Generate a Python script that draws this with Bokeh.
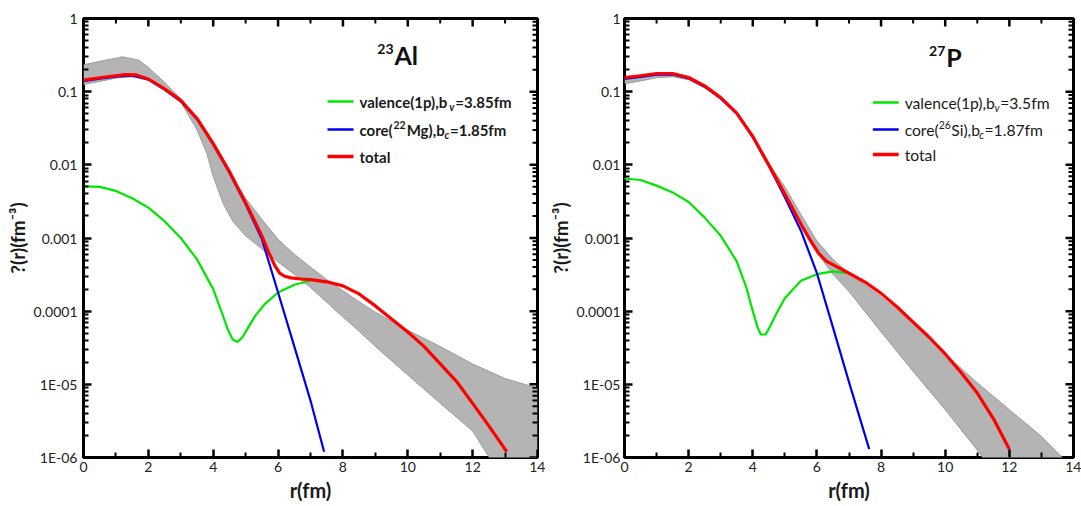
import math
from bokeh.plotting import figure
from bokeh.models import Range1d, FixedTicker, Label
from bokeh.layouts import row
from bokeh.embed import file_html
from bokeh.resources import INLINE

# ---------------- data: left panel (23Al) ----------------
r_band_L = [0, 0.5, 1.0, 1.2, 1.7, 2.0, 2.5, 3.0, 3.5, 3.8, 4.0, 4.3, 4.6, 5.0, 5.5, 6.0,
            6.5, 7.0, 7.5, 8.0, 8.5, 9.0, 10.0, 11.0, 12.0, 13.0, 14.0]
upper_L = [0.233, 0.26, 0.287, 0.30, 0.27, 0.214, 0.134, 0.080, 0.043, 0.028, 0.0195, 0.011,
           0.0066, 0.0035, 0.0018, 0.00096, 0.0006, 0.0004, 0.00027, 0.00019, 0.000135, 9.7e-5,
           5.5e-5, 3.3e-5, 1.9e-5, 1.2e-5, 8.9e-6]
lower_L = [0.125, 0.138, 0.153, 0.157, 0.16, 0.149, 0.115, 0.072, 0.030, 0.0144, 0.0069, 0.0030,
           0.0017, 0.00107, 0.00071, 0.00047, 0.00032, 0.00021, 0.000132, 8.3e-5, 5.3e-5, 3.3e-5,
           1.34e-5, 5.5e-6, 2.3e-6, 4.5e-7, 1.5e-7]
r_val_L = [0, 0.5, 1.0, 1.5, 2.0, 2.5, 3.0, 3.5, 4.0, 4.3, 4.45, 4.6, 4.75, 4.9, 5.1, 5.3, 5.6,
           6.0, 6.5, 7.0]
val_L = [0.0051, 0.0050, 0.0044, 0.0035, 0.0026, 0.0017, 0.0010, 0.00051, 0.00020, 8.7e-5, 5.6e-5,
         4.1e-5, 3.8e-5, 4.4e-5, 6.2e-5, 8.7e-5, 1.26e-4, 1.8e-4, 2.3e-4, 2.6e-4]
r_core_L = [0, 0.5, 1.0, 1.5, 2.0, 2.5, 3.0, 3.5, 4.0, 4.5, 5.0, 5.5, 6.0, 6.5, 7.0, 7.42]
core_L = [0.139, 0.150, 0.160, 0.166, 0.146, 0.107, 0.074, 0.042, 0.019, 0.0078, 0.0029, 0.00097,
          0.00018, 3.3e-5, 6.0e-6, 1.2e-6]
r_tot_L = [0, 0.5, 1.0, 1.3, 1.6, 2.0, 2.5, 3.0, 3.5, 4.0, 4.5, 5.0, 5.25, 5.5, 5.7, 5.9, 6.05,
           6.2, 6.4, 6.7, 7.0, 7.5, 8.0, 8.5, 9.0, 9.5, 10.0, 10.5, 11.0, 11.5, 12.0, 12.5, 13.05]
tot_L = [0.144, 0.155, 0.165, 0.171, 0.170, 0.149, 0.109, 0.076, 0.043, 0.0195, 0.0081, 0.0030,
         0.0018, 0.00107, 0.00065, 0.00042, 0.00033, 0.00030, 0.000285, 0.000275, 0.00027, 0.000252,
         0.000222, 0.000172, 0.000118, 7.8e-5, 5.2e-5, 3.3e-5, 1.9e-5, 1.1e-5, 5.5e-6, 2.7e-6, 1.2e-6]

# ---------------- data: right panel (27P) ----------------
r_band_R = [0, 0.5, 1, 1.5, 2, 2.5, 3, 3.5, 4, 4.5, 5, 5.5, 6, 6.5, 7, 7.5, 8, 9, 10, 11, 12, 13, 14]
upper_R = [0.152, 0.162, 0.172, 0.175, 0.155, 0.118, 0.083, 0.051, 0.025, 0.0105, 0.005, 0.0021,
           0.00091, 0.00051, 0.00033, 0.00023, 0.000158, 6.8e-5, 2.6e-5, 1.05e-5, 4.5e-6, 1.95e-6, 7e-7]
lower_R = [0.128, 0.140, 0.155, 0.16, 0.145, 0.112, 0.080, 0.049, 0.023, 0.0098, 0.004, 0.0015,
           0.00063, 0.00032, 0.000185, 9.8e-5, 5.2e-5, 1.5e-5, 4.5e-6, 1.26e-6, 3e-7, 8e-8, 2e-8]
r_val_R = [0, 0.5, 1, 1.5, 2, 2.5, 3, 3.5, 3.8, 4.0, 4.15, 4.25, 4.4, 4.55, 4.75, 5.0, 5.5, 6.0,
           6.5, 7.0]
val_R = [0.0065, 0.0062, 0.0052, 0.0042, 0.0031, 0.0019, 0.00107, 0.00048, 0.00021, 0.00010,
         6.0e-5, 4.8e-5, 4.8e-5, 6.3e-5, 9.5e-5, 0.00015, 0.00026, 0.00032, 0.00035, 0.00033]
r_core_R = [0, 0.5, 1, 1.5, 2, 2.5, 3, 3.5, 4, 4.5, 5, 5.5, 6, 6.5, 7, 7.63]
core_R = [0.150, 0.159, 0.171, 0.172, 0.152, 0.117, 0.081, 0.050, 0.024, 0.0097, 0.0036, 0.00126,
          3.3e-4, 6e-5, 1.07e-5, 1.3e-6]
r_tot_R = [0, 0.5, 1.0, 1.5, 2.0, 2.5, 3.0, 3.5, 4.0, 4.5, 5.0, 5.5, 5.8, 6.05, 6.3, 6.6, 7.0, 7.5,
           8.0, 8.5, 9.0, 9.5, 10.0, 10.5, 11.0, 11.5, 12.0]
tot_R = [0.156, 0.165, 0.177, 0.177, 0.156, 0.12, 0.083, 0.051, 0.0245, 0.0099, 0.0040, 0.00155,
         0.00092, 0.00062, 0.00048, 0.00041, 0.00033, 0.00025, 0.000175, 0.000114, 7.1e-5, 4.4e-5,
         2.6e-5, 1.44e-5, 7.6e-6, 3.4e-6, 1.3e-6]

# ---------------- ticks and texts ----------------
x_ticks = [0, 2, 4, 6, 8, 10, 12, 14]
x_minor = [1, 3, 5, 7, 9, 11, 13]
y_ticks = [1e-6, 1e-5, 1e-4, 1e-3, 1e-2, 1e-1, 1]
y_tick_labels = ["1E-06", "1E-05", "0.0001", "0.001", "0.01", "0.1", "1"]
x_title = "r(fm)"
y_title = "?(r)(fm\u207b\u00b3)"

legend_L = [
    [("valence(1p),b", "m"), ("v", "sub"), ("=3.85fm", "m")],
    [("core(", "m"), ("22", "sup"), ("Mg),b", "m"), ("c", "sub"), ("=1.85fm", "m")],
    [("total", "m")],
]
legend_R = [
    [("valence(1p),b", "m"), ("v", "sub"), ("=3.5fm", "m")],
    [("core(", "m"), ("26", "sup"), ("Si),b", "m"), ("c", "sub"), ("=1.87fm", "m")],
    [("total", "m")],
]
nucleus_L = ("23", "Al")
nucleus_R = ("27", "P")

GREEN, BLUE, RED = "#00e600", "#0000f0", "#ff0000"
BAND = "#b4b4b4"
FONT = "Lato"
FIG_H = 506

W_EM = {'a': 0.49, 'b': 0.55, 'c': 0.45, 'd': 0.55, 'e': 0.52, 'f': 0.31, 'g': 0.50, 'i': 0.24,
        'l': 0.24, 'm': 0.83, 'n': 0.55, 'o': 0.55, 'p': 0.55, 'r': 0.36, 's': 0.41, 't': 0.34,
        'v': 0.50, '(': 0.30, ')': 0.30, ',': 0.21, '.': 0.21, '=': 0.58, 'M': 0.87, 'S': 0.50}


def tw(s, size, bold):
    w = sum(W_EM.get(ch, 0.58) for ch in s) * size
    return w * (1.04 if bold else 1.0)


def style_axis(ax):
    ax.axis_line_color = None
    ax.major_tick_line_color = "black"
    ax.minor_tick_line_color = "black"
    ax.major_tick_line_width = 2.5
    ax.minor_tick_line_width = 2
    ax.major_tick_out = 0
    ax.minor_tick_out = 0
    ax.major_tick_in = 8
    ax.minor_tick_in = 5
    ax.major_label_text_font = FONT
    ax.major_label_text_font_size = "14px"
    ax.major_label_text_color = "#222222"
    ax.axis_label_text_font = FONT
    ax.axis_label_text_font_style = "bold"
    ax.axis_label_text_color = "#1a1a1a"


def panel(fig_x, width, bl, br, bt, bb, band, val, core, tot, legend, nucleus, bold,
          key_x, key_ys, text_x, nuc_pos, fsize, ystand):
    p = figure(width=width, height=FIG_H, x_range=Range1d(0, 14), y_range=Range1d(1e-6, 1),
               y_axis_type="log", output_backend="svg", toolbar_location=None, title=None,
               min_border_left=bl, min_border_right=br, min_border_top=bt, min_border_bottom=bb)
    p.xgrid.visible = False
    p.ygrid.visible = False
    p.outline_line_color = "black"
    p.outline_line_width = 3
    p.outline_line_alpha = 1.0

    y_minor = [k * t for t in y_ticks[:-1] for k in range(2, 10)]
    p.xaxis.ticker = FixedTicker(ticks=x_ticks, minor_ticks=x_minor)
    p.yaxis.ticker = FixedTicker(ticks=y_ticks, minor_ticks=y_minor)
    p.yaxis.major_label_overrides = {t: s for t, s in zip(y_ticks, y_tick_labels)}
    p.xaxis.axis_label = x_title
    p.yaxis.axis_label = y_title
    style_axis(p.xaxis[0])
    style_axis(p.yaxis[0])
    p.xaxis.major_label_standoff = 4
    p.xaxis.axis_label_standoff = 3
    p.yaxis.major_label_standoff = ystand
    p.yaxis.axis_label_standoff = 2
    p.xaxis.axis_label_text_font_size = "20px"
    p.yaxis.axis_label_text_font_size = "19px"

    rb, up, lo = band
    p.varea(x=rb, y1=lo, y2=up, fill_color=BAND, fill_alpha=1.0)
    p.line(rb, up, line_color="#8f8f8f", line_width=0.8)
    p.line(rb, lo, line_color="#8f8f8f", line_width=0.8)
    p.line(val[0], val[1], line_color=GREEN, line_width=2.2, line_join="round")
    p.line(core[0], core[1], line_color=BLUE, line_width=2.2, line_join="round")
    p.line(tot[0], tot[1], line_color=RED, line_width=3.2, line_join="round")

    # mirrored ticks on top and right edges (inward)
    xe = 14
    ye = 1
    p.ray(x=x_ticks, y=[ye] * len(x_ticks), length=8, length_units="screen", angle=-math.pi / 2,
          line_color="black", line_width=2.5)
    p.ray(x=x_minor, y=[ye] * len(x_minor), length=5, length_units="screen", angle=-math.pi / 2,
          line_color="black", line_width=2)
    p.ray(x=[xe] * len(y_ticks), y=y_ticks, length=8, length_units="screen", angle=math.pi,
          line_color="black", line_width=2.5)
    p.ray(x=[xe] * len(y_minor), y=y_minor, length=5, length_units="screen", angle=math.pi,
          line_color="black", line_width=2)

    # page-pixel -> data conversion using this figure's own frame
    f_left = fig_x + bl
    f_top = bt
    my_ppu = (width - bl - br) / 14.0
    my_ppd = (FIG_H - bt - bb) / 6.0

    def dx(px):
        return (px - f_left) / my_ppu

    def dy(py):
        return 10 ** (-(py - f_top) / my_ppd)

    # legend keys
    colors = [GREEN, BLUE, RED]
    widths = [2.5, 2.5, 3.5]
    kx0, kx1 = key_x
    for ky, c, lw in zip(key_ys, colors, widths):
        p.segment(x0=[dx(kx0)], y0=[dy(ky)], x1=[dx(kx1)], y1=[dy(ky)], line_color=c, line_width=lw)

    style = "bold" if bold else "normal"
    for ky, pieces in zip(key_ys, legend):
        cur = 0.0
        for txt, kind in pieces:
            if kind == "m":
                size, off, st = fsize, 0, style
            elif kind == "sub":
                size, off, st = 10.5, 5, ("bold italic" if bold else "italic")
            else:
                size, off, st = 10.5, -5, style
            p.add_layout(Label(x=dx(text_x + cur), y=dy(ky + off),
                               text=txt, text_font=FONT, text_font_size=f"{size}px",
                               text_font_style=st, text_color="#1a1a1a",
                               text_baseline="middle", text_align="left"))
            cur += tw(txt, size, bold) + (0.5 if kind != "m" else 0)

    # nucleus label
    sup, main = nucleus
    nx, ny_main, ny_sup = nuc_pos
    p.add_layout(Label(x=dx(nx), y=dy(ny_main), text=main, text_font=FONT, text_font_size="25px",
                       text_font_style="bold", text_color="#111111", text_baseline="middle",
                       text_align="left"))
    p.add_layout(Label(x=dx(nx - 1), y=dy(ny_sup), text=sup, text_font=FONT, text_font_size="14px",
                       text_font_style="bold", text_color="#111111", text_baseline="middle",
                       text_align="right"))
    return p


p1 = panel(0, 545, 83, 8, 18, 49,
           (r_band_L, upper_L, lower_L), (r_val_L, val_L), (r_core_L, core_L), (r_tot_L, tot_L),
           legend_L, nucleus_L, True, (327, 353), [101, 129, 156], 359, (394, 54, 48), 15, 6)
p2 = panel(545, 536, 76, 8, 18, 49,
           (r_band_R, upper_R, lower_R), (r_val_R, val_R), (r_core_R, core_R), (r_tot_R, tot_R),
           legend_R, nucleus_R, False, (871, 897), [102, 129, 154], 903, (945, 56, 50), 15.7, 4)

layout = row(p1, p2)
open("out.html", "w").write(file_html(layout, INLINE))
